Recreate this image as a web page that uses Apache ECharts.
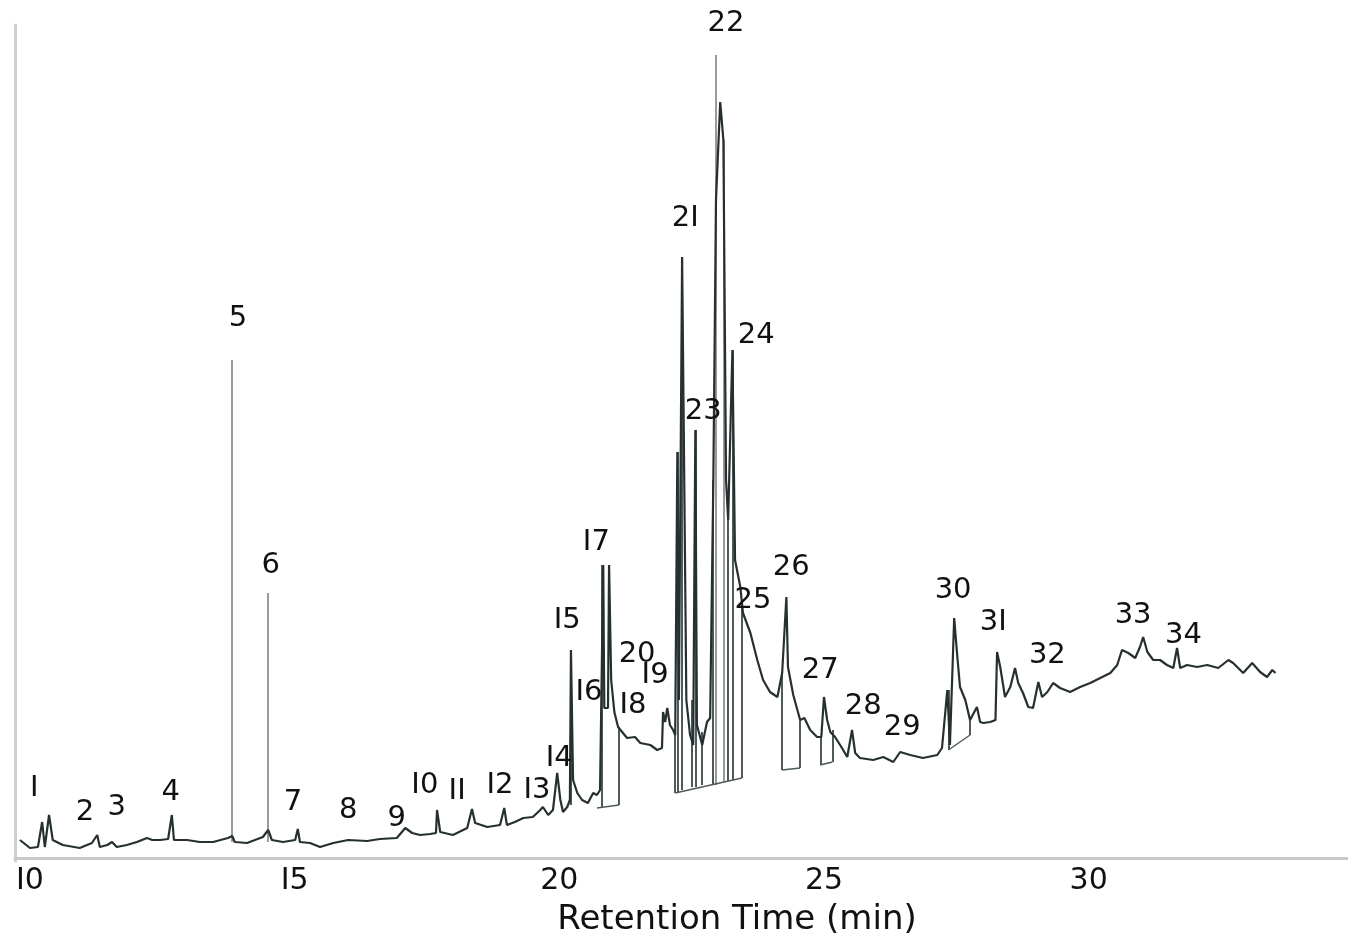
<!DOCTYPE html>
<html>
<head>
<meta charset="utf-8">
<title>Chromatogram</title>
<script src="https://cdn.jsdelivr.net/npm/echarts@6/dist/echarts.min.js"></script>
<style>
html,body{margin:0;padding:0;background:#fff;}
#chart{width:1348px;height:934px;}
</style>
</head>
<body>
<div id="chart"></div>
<script>
// trace: retention time (min) and detector response (arbitrary units)
const retentionTime = [9.81,10.00,10.15,10.23,10.28,10.36,10.43,10.62,10.94,11.17,11.27,11.32,11.46,11.55,11.64,11.83,12.02,12.21,12.31,12.46,12.61,12.68,12.72,12.97,13.21,13.46,13.74,13.82,13.87,14.10,14.40,14.50,14.57,14.78,15.01,15.06,15.10,15.29,15.48,15.73,16.01,16.37,16.61,16.93,17.09,17.22,17.37,17.56,17.67,17.69,17.75,17.99,18.26,18.35,18.41,18.64,18.88,18.96,19.01,19.16,19.32,19.50,19.64,19.69,19.79,19.88,19.96,20.02,20.07,20.15,20.20,20.22,20.26,20.34,20.43,20.54,20.64,20.71,20.77,20.83,20.85,20.92,20.94,20.98,21.04,21.11,21.28,21.43,21.53,21.72,21.85,21.94,21.96,22.00,22.04,22.09,22.15,22.19,22.23,22.26,22.32,22.40,22.47,22.53,22.57,22.60,22.70,22.79,22.85,22.91,22.96,23.04,23.10,23.15,23.19,23.27,23.32,23.42,23.47,23.61,23.74,23.85,23.98,24.12,24.21,24.29,24.32,24.42,24.55,24.63,24.74,24.87,24.95,25.00,25.06,25.12,25.21,25.34,25.44,25.53,25.59,25.68,25.93,26.12,26.31,26.44,26.63,26.87,27.14,27.23,27.33,27.38,27.46,27.52,27.57,27.67,27.76,27.89,27.95,28.01,28.14,28.24,28.27,28.33,28.42,28.52,28.61,28.67,28.76,28.86,28.95,29.05,29.12,29.22,29.33,29.46,29.65,29.84,30.03,30.22,30.41,30.54,30.63,30.75,30.88,30.97,31.03,31.11,31.22,31.35,31.48,31.60,31.67,31.73,31.86,32.05,32.24,32.45,32.64,32.73,32.92,33.09,33.24,33.37,33.47,33.53];
const response = [18,10,11,36,11,43,18,13,10,15,23,11,13,16,11,13,16,20,18,18,19,43,18,18,16,16,20,22,16,15,21,28,18,16,18,29,16,15,11,15,18,17,19,20,30,25,23,24,25,48,26,23,30,49,35,31,33,50,33,36,40,41,48,51,43,48,85,58,46,51,58,208,78,65,58,55,65,63,68,293,150,150,293,178,146,131,120,121,115,113,108,110,146,136,150,133,128,123,406,158,601,158,123,113,428,133,113,136,140,378,658,756,718,378,338,508,298,271,245,225,198,178,166,161,185,261,191,163,138,140,128,121,121,161,138,126,121,110,101,128,105,100,98,101,96,106,103,100,103,110,168,113,240,201,171,158,138,151,136,135,136,138,206,191,161,171,190,175,165,151,150,176,161,166,175,170,166,171,175,180,185,193,208,205,200,211,221,206,198,198,193,190,210,190,193,191,193,190,198,195,185,195,186,181,188,185];

// tall single-scan peaks drawn as light grey sticks
const stickTime = [13.82,14.50,22.96,23.10];
const stickTop = [498,265,803,718];
const stickBottom = [16,16,73,76];

// integration drop lines
const dropTime = [20.22,20.81,21.13,22.19,22.23,22.32,22.51,22.57,22.70,22.89,23.19,23.27,23.45,24.21,24.55,24.93,25.16,27.35,27.76];
const dropTop = [208,293,131,123,406,601,158,428,126,378,338,508,251,185,138,121,128,168,138];
const dropBottom = [53,50,53,65,65,68,71,71,73,73,77,78,80,88,90,93,96,108,123];

// integration baselines: start time, start level, end time, end level
const baseStart = [20.71,22.19,24.21,24.93,27.35];
const baseStartLevel = [50,65,88,93,108];
const baseEnd = [21.13,23.45,24.55,25.16,27.76];
const baseEndLevel = [53,80,90,96,123];

// peak numbers as printed
const peakNames = ['I','2','3','4','5','6','7','8','9','I0','II','I2','I3','I4','I5','I6','I7','I8','I9','20','2I','22','23','24','25','26','27','28','29','30','3I','32','33','34'];
const peakLabelTime = [10.08,11.04,11.64,12.66,13.93,14.55,14.97,16.01,16.93,17.46,18.07,18.88,19.58,20.00,20.15,20.56,20.70,21.39,21.81,21.47,22.38,23.15,22.72,23.72,23.66,24.38,24.93,25.74,26.48,27.44,28.20,29.22,30.84,31.79];
const peakLabelLevel = [70,46,51,66,540,293,56,48,40,73,67,73,68,100,238,166,316,153,183,204,640,835,447,523,258,291,188,152,131,268,236,203,243,223];

const tickValues = [10,15,20,25,30];
const tickLabels = ['I0','I5','20','25','30'];

const traceData = retentionTime.map((t, i) => [t, response[i]]);
const stickData = stickTime.map((t, i) => ({coords: [[t, stickTop[i]], [t, stickBottom[i]]]}));
const dropData = dropTime.map((t, i) => ({coords: [[t, dropTop[i]], [t, dropBottom[i]]]}));
const baseData = baseStart.map((t, i) => ({coords: [[t, baseStartLevel[i]], [baseEnd[i], baseEndLevel[i]]]}));
const labelData = peakNames.map((n, i) => ({name: n, value: [peakLabelTime[i], peakLabelLevel[i]]}));

const FONT = 'DejaVu Sans';
const chart = echarts.init(document.getElementById('chart'));
chart.setOption({
    animation: false,
    backgroundColor: '#fff',
    grid: {left: 15, right: 0, top: 25, bottom: 73, outerBoundsMode: 'none'},
    xAxis: {
        type: 'value',
        min: 9.717,
        max: 34.9,
        name: 'Retention Time (min)',
        nameLocation: 'middle',
        nameGap: 42,
        nameTextStyle: {fontFamily: FONT, fontSize: 34, color: '#111', padding: [0, 0, 0, 111]},
        axisLine: {lineStyle: {color: '#c8c8c8', width: 3}},
        axisTick: {show: false},
        splitLine: {show: false},
        axisLabel: {
            customValues: tickValues,
            margin: 5,
            fontFamily: FONT,
            fontSize: 30,
            color: '#111',
            formatter: v => tickLabels[tickValues.indexOf(v)]
        }
    },
    yAxis: {
        type: 'value',
        min: -3,
        max: 833,
        axisLine: {show: true, lineStyle: {color: '#cfcfcf', width: 3}},
        axisTick: {show: false},
        axisLabel: {show: false},
        splitLine: {show: false}
    },
    series: [
        {
            type: 'lines',
            coordinateSystem: 'cartesian2d',
            data: stickData,
            lineStyle: {color: '#9a9a9a', width: 2, opacity: 1},
            z: 2
        },
        {
            type: 'lines',
            coordinateSystem: 'cartesian2d',
            data: dropData,
            lineStyle: {color: '#4f5a5a', width: 2, opacity: 1},
            z: 3
        },
        {
            type: 'lines',
            coordinateSystem: 'cartesian2d',
            data: baseData,
            lineStyle: {color: '#4f5a5a', width: 1.5, opacity: 1},
            z: 3
        },
        {
            type: 'line',
            data: traceData,
            showSymbol: false,
            lineStyle: {color: '#263030', width: 2.2},
            z: 4
        },
        {
            type: 'scatter',
            data: labelData,
            symbolSize: 0,
            clip: false,
            itemStyle: {opacity: 1, color: '#000'},
            label: {
                show: true,
                position: 'inside',
                formatter: '{b}',
                fontFamily: FONT,
                fontSize: 29,
                color: '#111',
                textBorderWidth: 0,
                opacity: 1
            },
            z: 5
        }
    ]
});
</script>
</body>
</html>
